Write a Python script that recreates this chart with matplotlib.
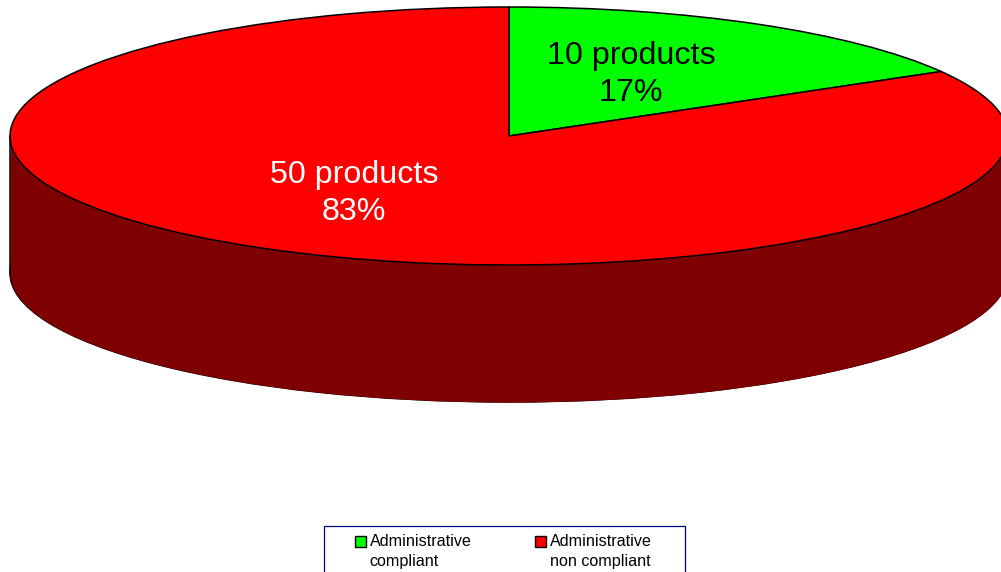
# -*- coding: utf-8 -*-
"""
3D style pie of administrative compliance of the products.
"""
import matplotlib
matplotlib.use('Agg')
import matplotlib.pyplot as plt
import numpy as np
from matplotlib.legend_handler import HandlerPatch
from matplotlib.patches import Patch, Rectangle

plt.rcParams['font.family'] = ['Liberation Sans', 'DejaVu Sans']

# Data
categories = ['Administrative\ncompliant', 'Administrative\nnon compliant']
products = [10, 50]
percent_labels = ['17%', '83%']
colors = ['#00ff00', '#ff0000']
side_color = '#7f0000'

W, H = 1001, 572
rx, ry = 499.0, 129.0      # ellipse radii, pixels
cx, cy = 509.0, 136.0      # centre of the top face, pixels
depth = 137.0 / ry         # height of the cylinder in pie units

fig = plt.figure(figsize=(W/100, H/100), dpi=100)
ax = fig.add_axes([0, 0, 1, 1])

# Side of the cylinder: bottom ellipse plus band up to the top one
ax.pie([1], radius=1, center=(0, -depth), colors=[side_color], startangle=90,
       wedgeprops=dict(edgecolor='black', linewidth=1.1))
x = np.linspace(-1, 1, 400)
ax.fill_between(x, -np.sqrt(1 - x**2) - depth, np.sqrt(1 - x**2),
                color=side_color, linewidth=0)
ax.plot([-1, -1], [0, -depth], color='black', lw=1.1)

# Top face, clockwise from twelve o'clock
ax.pie(products, colors=colors, startangle=90, counterclock=False, radius=1,
       wedgeprops=dict(edgecolor='black', linewidth=1.1))

# Axes mapped to pixels, the pie is squeezed into an ellipse
ax.set_aspect('auto')
ax.set_xlim(-cx/rx, (W - cx)/rx)
ax.set_ylim(-(H - cy)/ry, cy/ry)
ax.axis('off')

ax.text((631 - cx)/rx, (cy - 74.5)/ry, '%d products\n%s' % (products[0], percent_labels[0]),
        ha='center', va='center', fontsize=23.2, color='black', linespacing=1.32)
ax.text((354 - cx)/rx, (cy - 193.5)/ry, '%d products\n%s' % (products[1], percent_labels[1]),
        ha='center', va='center', fontsize=23.2, color='white', linespacing=1.32)


# Square key next to the first line of the label, not in the middle
def top_key(legend, orig_handle, xdescent, ydescent, width, height, fontsize):
    return Rectangle((-xdescent, -ydescent + 7.6), width, width)


# Frame runs off the bottom of the figure
fig.add_artist(Rectangle((324/W, -0.05), 361/W, 1 - 526/H + 0.05, transform=fig.transFigure,
                         facecolor='white', edgecolor='#000080', linewidth=0.9))

handles = [Patch(facecolor=c, edgecolor='black', label=l) for c, l in zip(colors, categories)]
leg = fig.legend(handles=handles, ncol=2, loc='upper left',
                 bbox_to_anchor=(355/W, 1 - 534/H), borderaxespad=0, fontsize=11.6,
                 frameon=False, handlelength=0.68, handleheight=0.68, handletextpad=0.22,
                 columnspacing=3.95, borderpad=0, labelspacing=0.3,
                 handler_map={Patch: HandlerPatch(patch_func=top_key)})
for t in leg.get_texts():
    t.set_linespacing(1.38)

fig.savefig('out.png', dpi=100)
